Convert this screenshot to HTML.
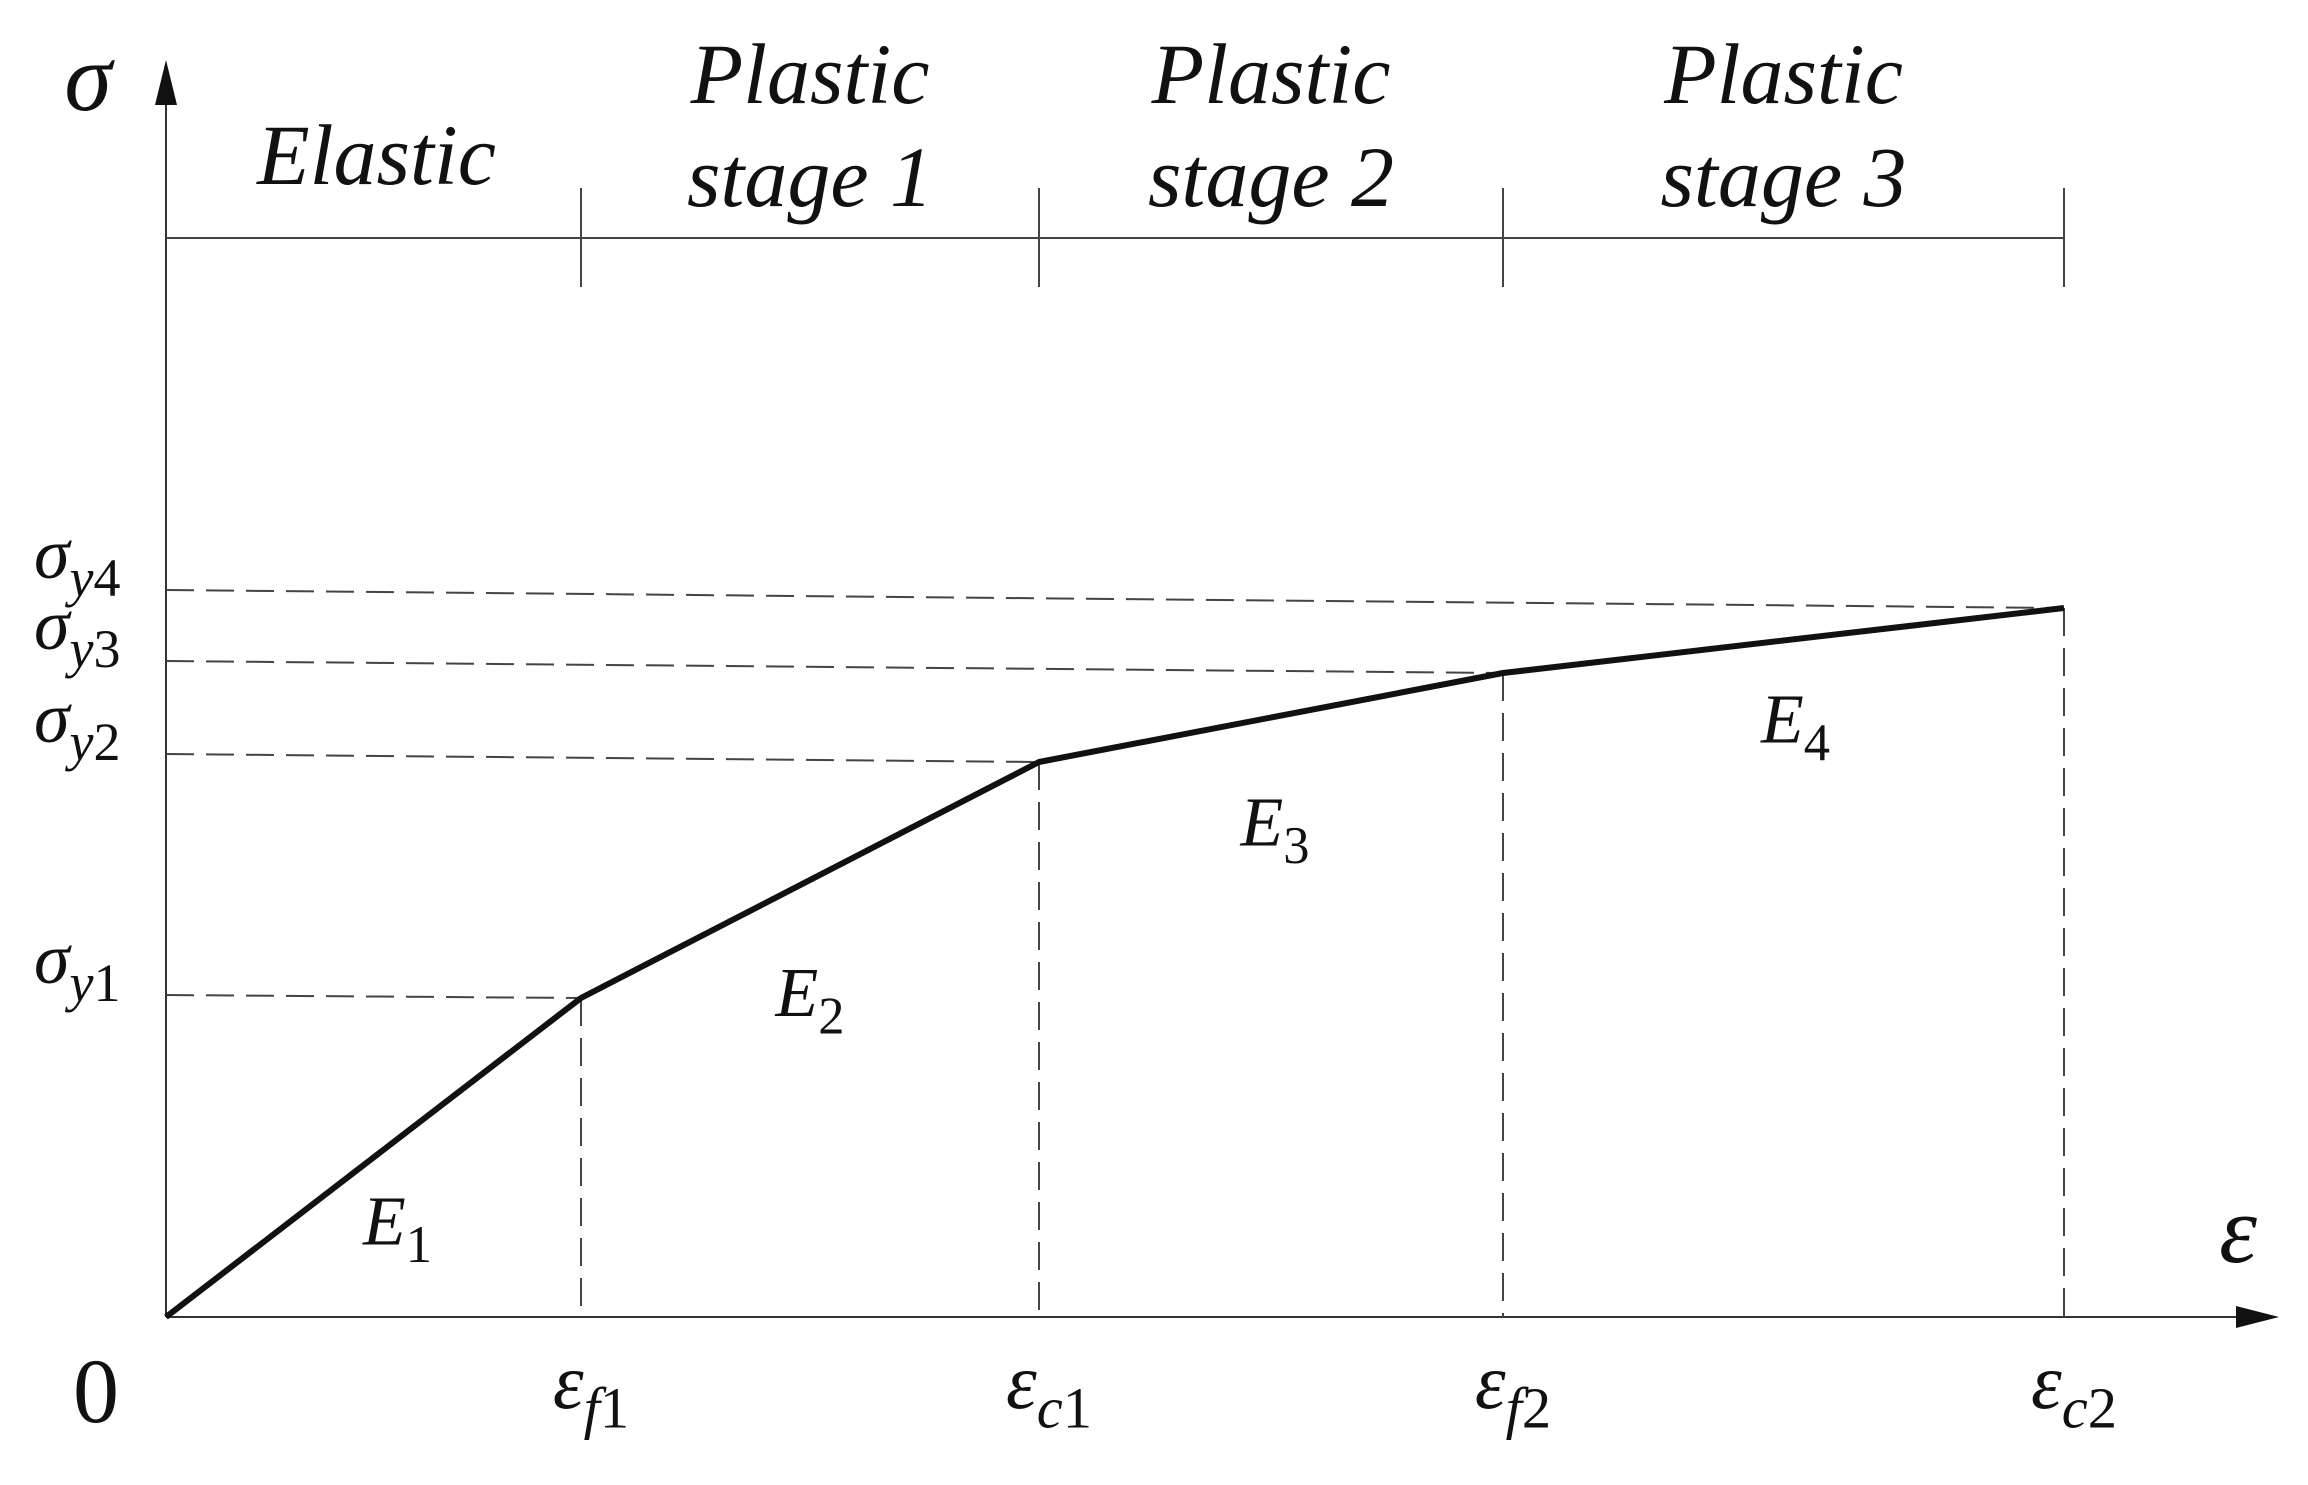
<!DOCTYPE html>
<html><head><meta charset="utf-8"><style>
html,body{margin:0;padding:0;background:#fff;}
svg text{font-family:"Liberation Serif",serif;font-style:italic;fill:#111;}
svg text .up, svg text.up{font-style:normal;}
</style></head><body>
<svg id="chart" width="2308" height="1480" viewBox="0 0 2308 1480" xmlns="http://www.w3.org/2000/svg">
<g id="g"></g>
</svg>
<script>
const strainLabels = ["f","c","f","c"];
const strainIdx = ["1","1","2","2"];
const strainVals = [0, 0.415, 0.873, 1.337, 1.898];
const stressVals = [0, 0.319, 0.555, 0.644, 0.709];
const levelVals = [0.322, 0.563, 0.656, 0.727];
const levelIdx = ["1","2","3","4"];
const stageTop = ["", "Plastic", "Plastic", "Plastic"];
const stageBottom = ["Elastic", "stage 1", "stage 2", "stage 3"];
const modulusLabels = ["1","2","3","4"];

const X0 = 166, Y0 = 1317;
const xs = v => X0 + v * 1000;
const ys = v => Y0 - v * 1000;
const NS = "http://www.w3.org/2000/svg";
const g = document.getElementById('g');
function mk(tag, attrs, parent){const e=document.createElementNS(NS,tag);for(const k in attrs)e.setAttribute(k,attrs[k]);(parent||g).appendChild(e);return e;}
function txt(x,y,size,main,subL,subD,anchor){
  const t=mk('text',{x:x,y:y,'font-size':size,'text-anchor':anchor||'middle'});
  t.textContent=main;
  if(subL){const s=mk('tspan',{'font-size':size*0.75,dy:size*0.25},t);s.textContent=subL;}
  if(subD){const s=mk('tspan',{'font-size':size*0.75,'class':'up',dy:subL?0:size*0.25},t);s.textContent=subD;}
  return t;
}
let e;
e=mk('line',{x1:X0,y1:Y0,x2:2260,y2:Y0,stroke:'#333','stroke-width':2});


e=mk('polygon',{points:'2279,1317 2236,1306 2236,1328',fill:'#111'});


e=mk('line',{x1:X0,y1:Y0,x2:X0,y2:90,stroke:'#333','stroke-width':2});


e=mk('polygon',{points:'166,60 155,105 177,105',fill:'#111'});


e=mk('line',{x1:X0,y1:238,x2:xs(strainVals[4]),y2:238,stroke:'#444','stroke-width':2});


for(let i=1;i<strainVals.length;i++){
  e=mk('line',{x1:xs(strainVals[i]),y1:188,x2:xs(strainVals[i]),y2:287,stroke:'#444','stroke-width':2});
  
  
}
for(let i=0;i<4;i++){
  const cx=(xs(strainVals[i])+xs(strainVals[i+1]))/2 + (i===0?3:0);
  if(stageTop[i]){e=txt(cx,103,86,stageTop[i]);}
  e=txt(cx,i===0?184:206,86,stageBottom[i]);
  
  
}
for(let i=1;i<strainVals.length;i++){
  const x=xs(strainVals[i]), y=ys(stressVals[i]);
  e=mk('line',{x1:x,y1:y,x2:x,y2:Y0,stroke:'#444','stroke-width':2,'stroke-dasharray':'28,12'});
  
  
  e=mk('line',{x1:X0,y1:ys(levelVals[i-1]),x2:x,y2:y,stroke:'#444','stroke-width':2,'stroke-dasharray':'28,12'});
  
  
}
const pts=strainVals.map((v,i)=>xs(v)+','+ys(stressVals[i])).join(' ');
e=mk('polyline',{points:pts,fill:'none',stroke:'#111','stroke-width':6,'stroke-linejoin':'round'});


for(let i=0;i<4;i++){
  e=txt(34,ys(levelVals[i])-12,72,'σ','y',levelIdx[i],'start');
  
  
}
for(let i=0;i<4;i++){
  e=txt(xs(strainVals[i+1])+10,1408,78,'ε',strainLabels[i],strainIdx[i]);
  
  
}
const eOffX=[24,0,4,12], eOffY=[87,136,128,102];
for(let i=0;i<4;i++){
  const mx=(xs(strainVals[i])+xs(strainVals[i+1]))/2, my=(ys(stressVals[i])+ys(stressVals[i+1]))/2;
  e=txt(mx+eOffX[i],my+eOffY[i],70,'E',null,modulusLabels[i]);
  
  
}
e=txt(96,1422,92,'0');
e.setAttribute('class','up');
e=txt(88,110,96,'σ');
e=txt(2238,1262,96,'ε');
</script>
</body></html>
